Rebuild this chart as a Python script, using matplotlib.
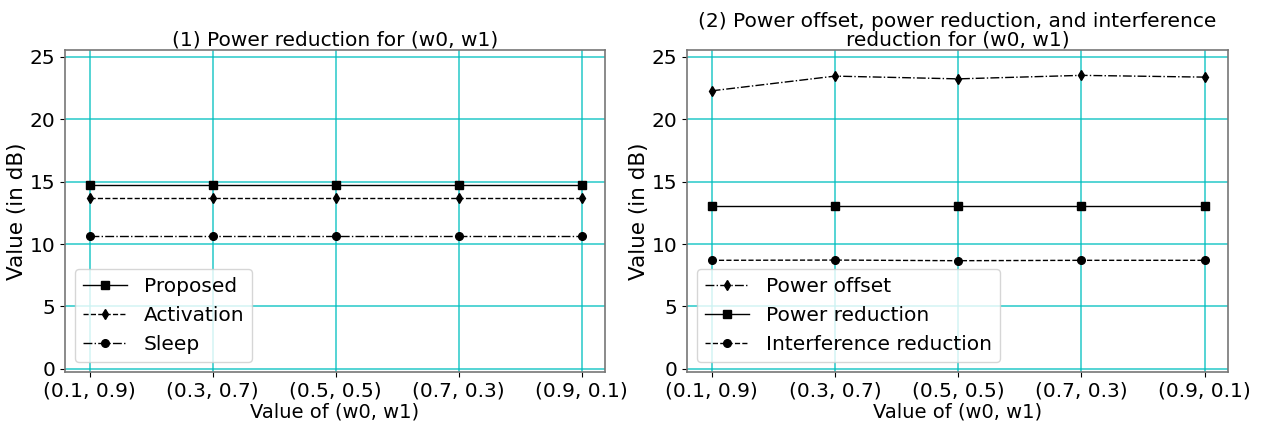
import matplotlib
matplotlib.use("Agg")
from matplotlib import pyplot as plt

weights = ["(0.1, 0.9)", "(0.3, 0.7)", "(0.5, 0.5)", "(0.7, 0.3)", "(0.9, 0.1)"]

# panel 1
proposed = [14.7, 14.7, 14.7, 14.7, 14.7]
activation = [13.68, 13.68, 13.68, 13.68, 13.68]
sleep = [10.65, 10.65, 10.65, 10.65, 10.65]

# panel 2
power_offset = [22.28, 23.46, 23.24, 23.52, 23.38]
power_reduction = [13.05, 13.05, 13.05, 13.05, 13.05]
interference_reduction = [8.70, 8.72, 8.67, 8.70, 8.70]

x = list(range(len(weights)))

fig = plt.figure(figsize=(12.67, 4.24), dpi=100)
ax1 = fig.add_axes([0.0513, 0.1226, 0.4262, 0.7594])
ax2 = fig.add_axes([0.5422, 0.1226, 0.4270, 0.7594])

ax1.plot(x, proposed, "-", marker="s", color="black", lw=1, ms=5.5, label="Proposed")
ax1.plot(x, activation, "--", marker="d", color="black", lw=1, ms=5.5, label="Activation")
ax1.plot(x, sleep, "-.", marker="o", color="black", lw=1, ms=5.5, label="Sleep")
ax1.set_title("(1) Power reduction for (w0, w1)", fontsize=14.5, pad=3)

ax2.plot(x, power_offset, "-.", marker="d", color="black", lw=1, ms=5.5, label="Power offset")
ax2.plot(x, power_reduction, "-", marker="s", color="black", lw=1, ms=5.5, label="Power reduction")
ax2.plot(x, interference_reduction, "--", marker="o", color="black", lw=1, ms=5.5, label="Interference reduction")
ax2.set_title("(2) Power offset, power reduction, and interference\nreduction for (w0, w1)",
              fontsize=14.5, pad=3, linespacing=1.02)

for ax in (ax1, ax2):
    ax.set_xticks(x)
    ax.set_xticklabels(weights)
    ax.set_xlim(-0.2, 4.19)
    ax.set_ylim(-0.25, 25.55)
    ax.set_yticks([0, 5, 10, 15, 20, 25])
    ax.tick_params(labelsize=14.5)
    ax.grid(True, color="c", lw=1.1, alpha=0.85)
    for s in ax.spines.values():
        s.set_color("#777777")
        s.set_linewidth(1.2)
    ax.set_xlabel("Value of (w0, w1)", fontsize=14, labelpad=1)
    ax.set_ylabel("Value (in dB)", fontsize=15.5, labelpad=2)
    ax.legend(loc="lower left", fontsize=14.5, handlelength=2.2)

fig.savefig("out.png", dpi=100)
